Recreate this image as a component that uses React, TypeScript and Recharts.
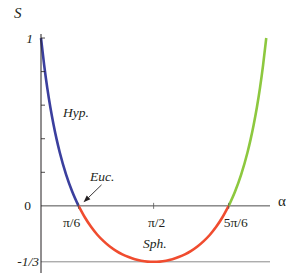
import React from 'react';
import { Line, LineChart, ReferenceDot, ReferenceLine, XAxis, YAxis } from 'recharts';

// alpha in degrees, S
const ALPHA_HYP = [0, 2.5, 5, 7.5, 10, 12.5, 15, 20, 25, 30];
const S_HYP = [1, 0.84, 0.703, 0.586, 0.485, 0.396, 0.318, 0.188, 0.084, 0];

const ALPHA_SPH = [30, 35, 40, 45, 50, 55, 60, 65, 70, 75, 80, 85, 90, 95, 100, 105, 110, 115, 120, 125, 130, 135, 140, 145, 150];
const S_SPH = [
  0, -0.068, -0.125, -0.172, -0.21, -0.242, -0.268, -0.289, -0.305, -0.318, -0.327, -0.332, -0.333,
  -0.332, -0.327, -0.318, -0.305, -0.289, -0.268, -0.242, -0.21, -0.172, -0.125, -0.068, 0,
];

const ALPHA_RISE = [150, 155, 160, 165, 167.5, 170, 172.5, 175, 177.5, 180];
const S_RISE = [0, 0.084, 0.188, 0.318, 0.396, 0.485, 0.586, 0.703, 0.84, 1];

const X_TICKS = [30, 90, 150];
const X_TICK_TEXT = ['π/6', 'π/2', '5π/6'];

const Y_MINOR = [0.2, 0.4, 0.6, 0.8, 1];
const Y_LABEL_VALUES = [1, 0, -1 / 3];
const Y_LABEL_TEXT = ['1', '0', '-1/3'];

const toRows = (xs: number[], ys: number[]) => xs.map((a, i) => ({ a, s: ys[i] }));
const hypData = toRows(ALPHA_HYP, S_HYP);
const sphData = toRows(ALPHA_SPH, S_SPH);
const riseData = toRows(ALPHA_RISE, S_RISE);

const FONT = '"Liberation Serif", "DejaVu Serif", serif';
const INK = '#231f20';

const center = (vb: any) => ({ x: vb.x + vb.width / 2, y: vb.y + vb.height / 2 });

function note(text: string, opts: { italic?: boolean; size?: number; anchor?: string; dx?: number; dy?: number } = {}) {
  return (p: any) => {
    const c = center(p.viewBox);
    return (
      <text
        x={c.x + (opts.dx ?? 0)}
        y={c.y + (opts.dy ?? 0)}
        textAnchor={opts.anchor ?? 'start'}
        fontFamily={FONT}
        fontSize={opts.size ?? 13.5}
        fontStyle={opts.italic ? 'italic' : 'normal'}
        fill={INK}
      >
        {text}
      </text>
    );
  };
}

function minorTick(p: any) {
  const c = center(p.viewBox);
  return <line x1={c.x} x2={c.x + 4} y1={c.y} y2={c.y} stroke={INK} strokeWidth={0.8} />;
}

function xTick(i: number) {
  const shift = [-7, 3, 7][i];
  return (p: any) => {
    const c = center(p.viewBox);
    return (
      <g>
        <line x1={c.x} x2={c.x} y1={c.y - 3} y2={c.y + 3} stroke="#555" strokeWidth={0.8} />
        <text x={c.x + shift} y={c.y + 21} textAnchor="middle" fontFamily={FONT} fontSize={13.5} fill={INK}>
          {X_TICK_TEXT[i]}
        </text>
      </g>
    );
  };
}

// Euc. pointer, drawn from the zero crossing
function eucArrow(p: any) {
  const c = center(p.viewBox);
  const tip = { x: c.x + 5, y: c.y - 3.5 };
  const tail = { x: c.x + 23, y: c.y - 21 };
  const dx = tail.x - tip.x;
  const dy = tail.y - tip.y;
  const len = Math.hypot(dx, dy);
  const ux = dx / len;
  const uy = dy / len;
  const b = { x: tip.x + ux * 7, y: tip.y + uy * 7 };
  const head = `${tip.x},${tip.y} ${b.x - uy * 2.6},${b.y + ux * 2.6} ${b.x + uy * 2.6},${b.y - ux * 2.6}`;
  return (
    <g>
      <line x1={b.x} y1={b.y} x2={tail.x} y2={tail.y} stroke={INK} strokeWidth={0.9} />
      <polygon points={head} fill={INK} />
    </g>
  );
}

const yLabelStyle = [
  { dx: -8, italic: true },
  { dx: -10, italic: false },
  { dx: -2, italic: true },
];

const hidden = { r: 1, fill: 'none', stroke: 'none', ifOverflow: 'visible' as const };

export default function App() {
  return (
    <div style={{ position: 'absolute', left: 0, top: 0, background: '#fff' }}>
      <LineChart width={296} height={273} margin={{ top: 34, right: 26, bottom: 0, left: 0 }}>
        <XAxis type="number" dataKey="a" domain={[0, 183]} hide />
        <YAxis type="number" domain={[-0.4, 1.024]} width={41} tick={false} tickLine={false} axisLine={{ stroke: INK, strokeWidth: 1 }} />
        <ReferenceLine y={-1 / 3} stroke="#8a8a8a" strokeWidth={1} />
        <ReferenceLine y={0} stroke="#4d4d4d" strokeWidth={1} />

        <Line data={hypData} dataKey="s" type="monotone" stroke="#3b3f9e" strokeWidth={2.6} dot={false} isAnimationActive={false} />
        <Line data={sphData} dataKey="s" type="monotone" stroke="#f04c2f" strokeWidth={2.6} dot={false} isAnimationActive={false} />
        <Line data={riseData} dataKey="s" type="monotone" stroke="#8dc83f" strokeWidth={2.6} dot={false} isAnimationActive={false} />

        {Y_MINOR.map((v) => (
          <ReferenceDot key={`m${v}`} x={0} y={v} {...hidden} label={minorTick} />
        ))}
        {Y_LABEL_VALUES.map((v, i) => (
          <ReferenceDot
            key={`y${i}`}
            x={0}
            y={v}
            {...hidden}
            label={note(Y_LABEL_TEXT[i], { anchor: 'end', dx: yLabelStyle[i].dx, dy: 4.5, italic: yLabelStyle[i].italic })}
          />
        ))}
        {X_TICKS.map((a, i) => (
          <ReferenceDot key={a} x={a} y={0} {...hidden} label={xTick(i)} />
        ))}
        <ReferenceDot x={30} y={0} {...hidden} label={eucArrow} />

        <ReferenceDot x={17.6} y={0.53} {...hidden} label={note('Hyp.', { italic: true })} />
        <ReferenceDot x={39.2} y={0.148} {...hidden} label={note('Euc.', { italic: true })} />
        <ReferenceDot x={81.5} y={-0.251} {...hidden} label={note('Sph.', { italic: true })} />
        <ReferenceDot x={189.4} y={0} {...hidden} label={note('α', { size: 15 })} />
        <ReferenceDot x={-21.6} y={1.12} {...hidden} label={note('S', { italic: true, size: 15 })} />
      </LineChart>
    </div>
  );
}
